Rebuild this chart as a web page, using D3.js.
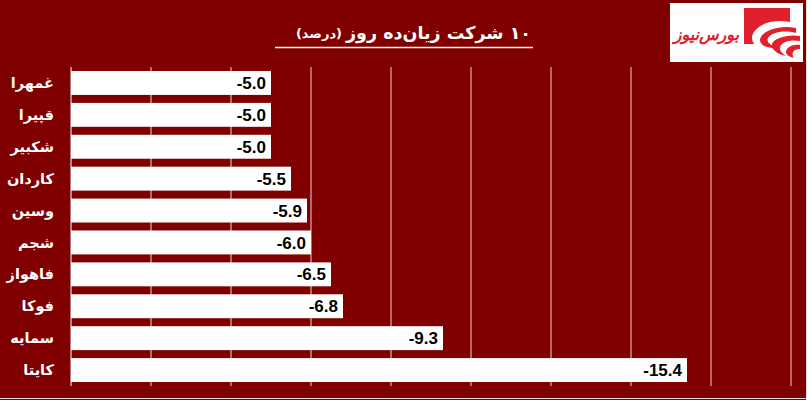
<!DOCTYPE html>
<html><head><meta charset="utf-8">
<script src="https://cdn.jsdelivr.net/npm/d3@7/dist/d3.min.js"></script>
<style>
html,body{margin:0;padding:0;background:#800000;}
svg{display:block;}
</style></head>
<body>
<svg id="chart" width="807" height="400"></svg>
<script>
const categories = ["غمهرا","قپیرا","شکبیر","کاردان","وسین","شجم","فاهواز","فوکا","سمایه","کایتا"];
const values = [-5.0,-5.0,-5.0,-5.5,-5.9,-6.0,-6.5,-6.8,-9.3,-15.4];
const gridTicks = [0,2,4,6,8,10,12,14,16,18];
const titleMain = "۱۰ شرکت زیان‌ده روز";
const titleUnit = "(درصد)";

const svg = d3.select("#chart");
svg.append("rect").attr("width",807).attr("height",400).attr("fill","#800000");

const x = d3.scaleLinear().domain([0,18]).range([71,791]);
const y = d3.scaleBand().domain(categories).range([67,386]).paddingInner(0.25).paddingOuter(0.125);

// gridlines
svg.append("g").selectAll("line").data(gridTicks).join("line")
  .attr("x1",d=>x(d)).attr("x2",d=>x(d))
  .attr("y1",67).attr("y2",386)
  .attr("stroke",d=>d===0?"#ffffff":"#ecd3d3").attr("stroke-width",1);

// bars
svg.append("g").selectAll("rect").data(values).join("rect")
  .attr("x",x(0)).attr("y",(d,i)=>y(categories[i]))
  .attr("width",d=>x(Math.abs(d))-x(0))
  .attr("height",y.bandwidth()).attr("fill","#ffffff");

// value labels
svg.append("g").selectAll("text").data(values).join("text")
  .attr("x",d=>x(Math.abs(d))-5)
  .attr("y",(d,i)=>y(categories[i])+y.bandwidth()/2)
  .attr("dy","0.36em").attr("text-anchor","end")
  .attr("font-family","Liberation Sans, Arial, sans-serif").attr("font-weight","bold")
  .attr("font-size",17).attr("fill","#000")
  .text(d=>d.toFixed(1));

// category labels (rtl: start anchor = right edge)
svg.append("g").selectAll("text").data(categories).join("text")
  .attr("x",54).attr("y",d=>y(d)+y.bandwidth()/2)
  .attr("dy","0.35em").attr("text-anchor","start")
  .attr("font-family","DejaVu Sans, sans-serif").attr("font-weight","bold")
  .attr("font-size",14.5).attr("fill","#fff").attr("direction","rtl")
  .text(d=>d);

// title
svg.append("text").attr("x",531).attr("y",39).attr("text-anchor","start")
  .attr("direction","rtl")
  .attr("font-family","DejaVu Sans, sans-serif").attr("font-weight","bold")
  .attr("font-size",17.5).attr("fill","#fff").text(titleMain);
svg.append("text").attr("x",342).attr("y",38).attr("text-anchor","start")
  .attr("direction","rtl")
  .attr("font-family","DejaVu Sans, sans-serif").attr("font-weight","bold")
  .attr("font-size",13).attr("fill","#fff").text(titleUnit);
svg.append("line").attr("x1",275).attr("x2",533).attr("y1",47.5).attr("y2",47.5)
  .attr("stroke","#fff").attr("stroke-width",1.5);

// logo
const logo = svg.append("g");
logo.append("rect").attr("x",670).attr("y",3).attr("width",133).attr("height",59).attr("fill","#fff");
logo.append("rect").attr("x",744).attr("y",8).attr("width",46).attr("height",36).attr("fill","#e0202a");
logo.append("path").attr("d","M790,22 C768,18 752,28 752,38 C752,46 762,50 775,50 L800,50 L800,22 Z").attr("fill","#fff");
logo.append("path").attr("d","M796,28 C778,24 760,32 760,40 C760,46 768,48 778,48 L782,48 C770,46 766,42 768,38 C772,32 784,30 796,33 Z").attr("fill","#e0202a");
logo.append("path").attr("d","M800,36 C788,34 774,38 772,44 C771,50 778,54 786,56 C780,52 778,48 782,44 C786,40 794,40 800,41 Z").attr("fill","#e0202a");
logo.append("path").attr("d","M800,45 C792,44 786,48 786,52 C786,55 790,57 794,58 C792,55 792,52 795,50 C797,49 799,49 800,49 Z").attr("fill","#e0202a");
logo.append("text").attr("x",739).attr("y",40).attr("text-anchor","start")
  .attr("font-family","DejaVu Sans, sans-serif").attr("font-weight","bold").attr("font-style","italic")
  .attr("font-size",16).attr("fill","#e0202a").attr("direction","rtl").text("بورس‌نیوز");

// border
svg.append("line").attr("x1",0).attr("x2",807).attr("y1",398.5).attr("y2",398.5).attr("stroke","#e8dede").attr("stroke-width",1);
svg.append("line").attr("x1",806.5).attr("x2",806.5).attr("y1",0).attr("y2",400).attr("stroke","#e8dede").attr("stroke-width",1);
</script>
</body></html>
